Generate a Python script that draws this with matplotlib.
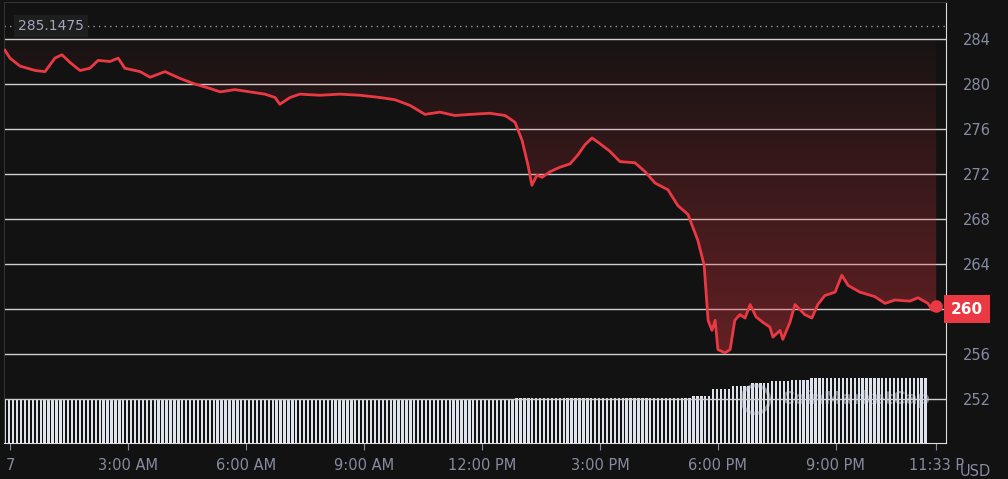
import numpy as np
import matplotlib.pyplot as plt
from matplotlib.colors import LinearSegmentedColormap

hours = [-0.13, 0, 0.25, 0.64, 0.89, 1.14, 1.32, 1.53, 1.78, 2.03, 2.24, 2.54, 2.75, 2.92,
         3.31, 3.56, 3.94, 4.32, 4.70, 5.09, 5.34, 5.72, 6.10, 6.48, 6.74, 6.86, 7.12, 7.37,
         7.88, 8.39, 8.90, 9.41, 9.79, 10.17, 10.55, 10.93, 11.31, 11.70, 12.20, 12.59, 12.84,
         13.02, 13.17, 13.27, 13.40, 13.53, 13.73, 13.98, 14.24, 14.44, 14.62, 14.80, 15.00,
         15.26, 15.51, 15.89, 16.15, 16.40, 16.73, 16.98, 17.24, 17.49, 17.65, 17.75, 17.85,
         17.93, 18.00, 18.18, 18.31, 18.43, 18.56, 18.69, 18.82, 18.97, 19.15, 19.32, 19.40,
         19.58, 19.65, 19.83, 19.96, 20.21, 20.39, 20.54, 20.72, 20.98, 21.15, 21.31, 21.61,
         21.99, 22.25, 22.50, 22.88, 23.09, 23.34, 23.45, 23.55]
prices = [283.0, 282.3, 281.6, 281.2, 281.1, 282.3, 282.6, 281.9, 281.2, 281.4, 282.1, 282.0,
          282.3, 281.4, 281.1, 280.6, 281.1, 280.5, 280.0, 279.6, 279.3, 279.5, 279.3, 279.1,
          278.8, 278.2, 278.8, 279.1, 279.0, 279.1, 279.0, 278.8, 278.6, 278.1, 277.3, 277.5,
          277.2, 277.3, 277.4, 277.2, 276.6, 275.0, 272.8, 271.0, 271.9, 271.7, 272.2, 272.6,
          272.9, 273.7, 274.6, 275.2, 274.7, 274.0, 273.1, 273.0, 272.2, 271.2, 270.6, 269.2,
          268.4, 266.1, 263.9, 259.0, 258.1, 259.0, 256.4, 256.1, 256.4, 259.0, 259.5, 259.2,
          260.4, 259.3, 258.8, 258.4, 257.5, 258.1, 257.3, 258.8, 260.4, 259.5, 259.2, 260.4,
          261.2, 261.5, 263.0, 262.1, 261.5, 261.1, 260.5, 260.8, 260.7, 261.0, 260.5, 259.9, 260.3]

# half-hourly volume bar heights (relative units)
vol = [43] * 26 + [45] * 9 + [47, 54, 57, 60, 62, 63, 65, 65, 65, 65, 65, 65]

tick_pos = [0, 3, 6, 9, 12, 15, 18, 21, 23.55]
tick_lbl = ["7", "3:00 AM", "6:00 AM", "9:00 AM", "12:00 PM", "3:00 PM", "6:00 PM", "9:00 PM", "11:33 P"]
y_ticks = [252, 256, 260, 264, 268, 272, 276, 280, 284]
high = 285.1475
last = 260

bg = "#121212"
red = "#ea3943"
grey = "#858ca2"

fig = plt.figure(figsize=(10.08, 4.79), dpi=100, facecolor=bg)
ax = fig.add_axes([4 / 1008, 1 - 443 / 479, 942 / 1008, 441 / 479])
ax.set_facecolor(bg)
ax.set_xlim(-0.153, 23.80)
ax.set_ylim(248.09, 287.29)

# volume bars
vax = ax.twinx()
vax.set_ylim(0, 441)
vax.set_xlim(ax.get_xlim())
vx, vh = [], []
for i, v in enumerate(vol):
    for k in range(5):
        t = i * 0.5 + k * 0.1 - 0.15
        if 23.35 < t < 23.44 or t > 23.47:
            continue
        vx.append(t)
        vh.append(v)
vax.bar(vx, vh, width=0.06, color="#dfe3ec", align="edge", zorder=1)
vax.axis("off")
ax.set_zorder(vax.get_zorder() + 1)
ax.patch.set_visible(False)

for yv in y_ticks:
    ax.axhline(yv, color="#d0d0d0", lw=1, zorder=2)
ax.axhline(high, color="#999999", lw=1, ls=(0, (1, 3)), zorder=2)

# gradient fill above line
poly = ax.fill_between(hours, prices, 284, color="none")
cmap = LinearSegmentedColormap.from_list("g", [(0.92, 0.22, 0.26, 0.38), (0.92, 0.22, 0.26, 0.03)])
grad = np.linspace(0, 1, 256).reshape(-1, 1)
im = ax.imshow(grad, extent=[hours[0], hours[-1], 256, 284], aspect="auto", cmap=cmap,
               origin="lower", zorder=2.5)
im.set_clip_path(poly.get_paths()[0], transform=ax.transData)

ax.plot(hours, prices, color=red, lw=2, zorder=4)
ax.plot(hours[-1], prices[-1], "o", color=red, ms=8, zorder=5)

ax.text(0.2, high, f"{high}", color="#a1a7bb", fontsize=10, va="center", ha="left",
        bbox=dict(boxstyle="square,pad=0.3", fc="#1e1e1e", ec="none"), zorder=6)
ax.plot(18.95, 252, "o", ms=20, mfc="none", mec="#cfd6e4", mew=2.5, alpha=0.5, zorder=6)
ax.text(19.6, 252, "CoinMarketCap", color="#cfd6e4", alpha=0.5, fontsize=12.5,
        fontweight="bold", va="center", ha="left", zorder=6)

ax.set_xticks(tick_pos)
ax.set_xticklabels(tick_lbl)
ax.yaxis.tick_right()
ax.set_yticks(y_ticks)
ax.set_yticklabels(["" if v == last else str(v) for v in y_ticks])
ax.tick_params(axis="x", colors=grey, labelcolor=grey, labelsize=10.5, length=5, pad=6)
ax.tick_params(axis="y", colors=bg, labelcolor=grey, labelsize=10.5, length=0, pad=12)
for s in ["top", "left"]:
    ax.spines[s].set_color("#333333")
for s in ["bottom", "right"]:
    ax.spines[s].set_color("#dddddd")

ax.text(1.005, (last - 248.09) / (287.29 - 248.09), f"{last}", transform=ax.transAxes,
        color="white", fontsize=11, fontweight="bold", va="center", ha="left",
        bbox=dict(boxstyle="square,pad=0.45", fc=red, ec="none"), zorder=6)
fig.text(975 / 1008, 1 - 472 / 479, "USD", color=grey, fontsize=10.5, va="center", ha="center")

fig.savefig("out.png", facecolor=bg)
